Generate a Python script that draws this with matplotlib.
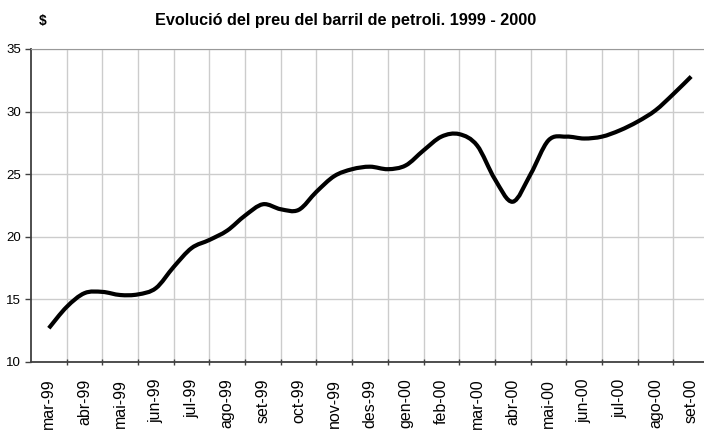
import numpy as np
import matplotlib
matplotlib.use('Agg')
import matplotlib.pyplot as plt
from matplotlib.path import Path
from matplotlib.patches import PathPatch

plt.rcParams['font.family'] = ['Liberation Sans', 'DejaVu Sans']

mesos = ['mar-99', 'abr-99', 'mai-99', 'jun-99', 'jul-99', 'ago-99', 'set-99',
         'oct-99', 'nov-99', 'des-99', 'gen-00', 'feb-00', 'mar-00', 'abr-00',
         'mai-00', 'jun-00', 'jul-00', 'ago-00', 'set-00']

# preu cada mig mes (dolars per barril)
preu = [12.7, 14.4, 15.5, 15.6, 15.35, 15.4, 15.9, 17.6, 19.1, 19.75,
        20.5, 21.7, 22.6, 22.2, 22.15, 23.6, 24.85, 25.4, 25.6, 25.4,
        25.7, 26.9, 28.0, 28.2, 27.3, 24.6, 22.8, 25.0, 27.7, 28.0,
        27.85, 28.0, 28.5, 29.2, 30.1, 31.4, 32.8]

x = np.arange(len(preu)) / 2.0
y = np.array(preu)

# corba suavitzada tipus Excel (bezier cubica)
pts = np.column_stack([x, y])
verts = [pts[0]]
codes = [Path.MOVETO]
n = len(pts)
for i in range(n - 1):
    p0 = pts[max(i - 1, 0)]
    p1 = pts[i]
    p2 = pts[i + 1]
    p3 = pts[min(i + 2, n - 1)]
    c1 = p1 + (p2 - p0) / 6.0
    c2 = p2 - (p3 - p1) / 6.0
    verts += [c1, c2, p2]
    codes += [Path.CURVE4] * 3

fig = plt.figure(figsize=(7.04, 4.34), dpi=100)
ax = fig.add_axes([31 / 704, 72 / 434, 678 / 704, 313 / 434])

ax.add_patch(PathPatch(Path(verts, codes), facecolor='none', edgecolor='black',
                       lw=3.0, capstyle='butt', joinstyle='round', zorder=3))

ax.set_xlim(-0.5, len(mesos) - 0.5)
ax.set_ylim(10, 35)
ax.set_yticks([10, 15, 20, 25, 30, 35])

ax.set_xticks(np.arange(len(mesos) - 1) + 0.5)
ax.set_xticklabels([])
ax.set_xticks(np.arange(len(mesos)), minor=True)
ax.set_xticklabels(mesos, minor=True, rotation=90, fontsize=11.5, va='top', ha='center')
ax.tick_params(axis='x', which='minor', length=0, pad=12)
ax.tick_params(axis='x', which='major', length=4, width=1, color='#404040', direction='inout')
ax.tick_params(axis='y', length=4, width=1, color='#404040', labelsize=9.5, pad=3)

ax.grid(True, which='major', color='#cccccc', lw=1)
ax.set_axisbelow(True)

ax.spines['right'].set_visible(False)
ax.spines['top'].set_color('#999999')
ax.spines['left'].set_color('#404040')
ax.spines['left'].set_linewidth(1.3)
ax.spines['bottom'].set_color('#404040')
ax.spines['bottom'].set_linewidth(1.3)

fig.text(346 / 704, 1 - 21 / 434, 'Evolució del preu del barril de petroli. 1999 - 2000',
         ha='center', va='center', fontsize=11.7, fontweight='bold')
fig.text(43 / 704, 1 - 21 / 434, '$', ha='center', va='center', fontsize=10,
         fontweight='bold')

fig.savefig('out.png', dpi=100)
